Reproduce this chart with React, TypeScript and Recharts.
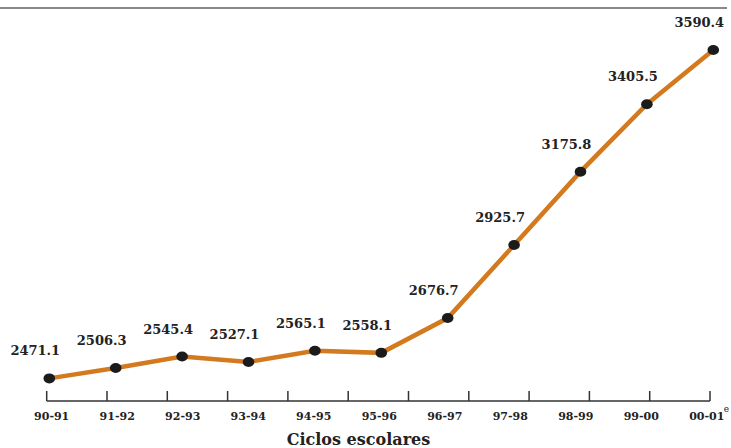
import React from 'react';
import { LineChart, Line, XAxis, YAxis, ReferenceLine } from 'recharts';

const cycles = ['90-91', '91-92', '92-93', '93-94', '94-95', '95-96', '96-97', '97-98', '98-99', '99-00', '00-01'];
const enrollment = [2471.1, 2506.3, 2545.4, 2527.1, 2565.1, 2558.1, 2676.7, 2925.7, 3175.8, 3405.5, 3590.4];
const tickMarks = [0, 1, 2, 3, 4, 5, 6, 7, 8, 9, 10, 11];
const labelTicks = [0, 1, 2, 3, 4, 5, 6, 7, 8, 9, 10];

const data = cycles.map((c, i) => ({ i, cycle: c, value: enrollment[i] }));

const SERIF = '"DejaVu Serif", serif';

const renderValueLabel = (props: any) => {
  const { x, y, value, index } = props;
  return (
    <text
      key={`lab-${index}`}
      x={x - 14}
      y={y - 23}
      textAnchor="middle"
      fontFamily={SERIF}
      fontWeight="bold"
      fontSize={13}
      fill="#222"
    >
      {Number(value).toFixed(1)}
    </text>
  );
};

const renderDot = (props: any) => {
  const { cx, cy, index } = props;
  return <ellipse key={`dot-${index}`} cx={cx} cy={cy} rx={5.8} ry={5} fill="#1b1b1b" />;
};

const CycleTick = (props: any) => {
  const { x, y, payload } = props;
  const idx = payload.value as number;
  return (
    <g>
      <text x={x} y={y + 19} textAnchor="middle" fontFamily={SERIF} fontWeight="bold" fontSize={11} fill="#222">
        {cycles[idx]}
      </text>
      {idx === cycles.length - 1 && (
        <text x={x + 17} y={y + 11} textAnchor="start" fontFamily={SERIF} fontSize={9} fill="#222">
          e
        </text>
      )}
    </g>
  );
};

const EmptyTick = () => <g />;

export default function App() {
  return (
    <div style={{ position: 'absolute', left: 0, top: 0, width: 731, height: 448, background: '#fff' }}>
      <div style={{ position: 'absolute', left: 0, top: 7, width: 727, height: 1.5, background: '#888' }} />
      <LineChart
        width={731}
        height={448}
        data={data}
        margin={{ top: 17.9, right: 17.7, left: 46.7, bottom: 0 }}
      >
        <XAxis xAxisId="data" dataKey="i" type="number" domain={[-0.0392, 10]} scale="linear" hide height={0} />
        <XAxis
          xAxisId="lab"
          type="number"
          dataKey="i"
          domain={[-0.0763, 10.1]}
          scale="linear"
          ticks={labelTicks}
          interval={0}
          height={47}
          axisLine={false}
          tickLine={false}
          tickSize={0}
          tickMargin={0}
          tick={CycleTick}
          label={{
            value: 'Ciclos escolares',
            position: 'insideBottom',
            offset: 3,
            dx: -21.5,
            fill: '#222',
            fontSize: 16,
            fontWeight: 'bold',
            fontFamily: SERIF,
          }}
        />
        <XAxis
          xAxisId="tk"
          type="number"
          dataKey="i"
          domain={[0, 11.0547]}
          scale="linear"
          ticks={tickMarks}
          interval={0}
          mirror
          height={1}
          axisLine={false}
          tickSize={10}
          tickLine={{ stroke: '#333', strokeWidth: 1.5 }}
          tick={EmptyTick}
        />
        <YAxis domain={[2394, 3700]} type="number" hide width={0} />
        <ReferenceLine
          xAxisId="tk"
          segment={[{ x: 0, y: 2394 }, { x: 11, y: 2394 }]}
          stroke="#333"
          strokeWidth={1.5}
          ifOverflow="visible"
        />
        <Line
          xAxisId="data"
          type="linear"
          dataKey="value"
          stroke="#D47A1E"
          strokeWidth={4.5}
          dot={renderDot}
          activeDot={false}
          label={renderValueLabel}
          isAnimationActive={false}
        />
      </LineChart>
    </div>
  );
}
